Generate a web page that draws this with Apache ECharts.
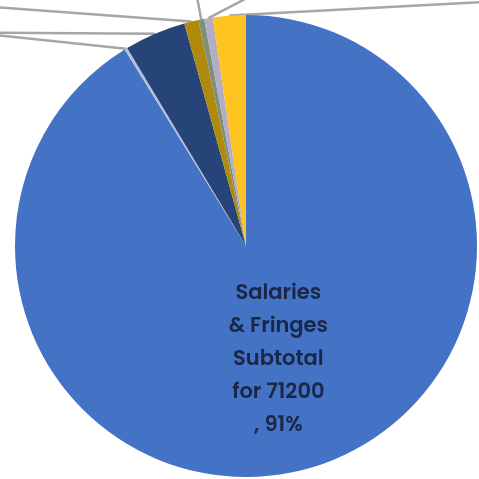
<!DOCTYPE html>
<html>
<head>
<meta charset="utf-8">
<script src="https://cdn.jsdelivr.net/npm/echarts@6/dist/echarts.min.js"></script>
<style>
  html, body { margin: 0; padding: 0; background: #fff; }
  #chart { width: 479px; height: 479px; }
</style>
</head>
<body>
<div id="chart"></div>
<script>
// slice names and shares (percent), clockwise from 12 o'clock
var names = ['Salaries & Fringes Subtotal for 71200', 'Other Personnel', 'Contractual', 'Equipment', 'Supplies', 'Communications', 'Travel'];
var values = [91.2, 0.2, 4.3, 1.0, 0.4, 0.6, 2.3];
var colors = ['#4472C4', '#B4C0D6', '#264478', '#B08A0C', '#7E8F7A', '#B2ACC4', '#FFC31F'];
// where the off-picture labels sit (their leader lines run out of frame)
var labelSpots = [null, [-160, 20], [-160, 32], [-140, -2], [176, -60], [330, -40], [720, -10]];

var chart = echarts.init(document.getElementById('chart'));

var data = names.map(function (n, i) {
  return { name: n, value: values[i], itemStyle: { color: colors[i] } };
});

var option = {
  animation: false,
  series: [{
    type: 'pie',
    center: [246, 246],
    radius: [0, 231],
    startAngle: 90,
    clockwise: true,
    avoidLabelOverlap: false,
    percentPrecision: 0,
    data: data,
    label: {
      show: true,
      position: 'outside',
      color: '#333',
      fontSize: 12,
      formatter: '{b}, {d}%'
    },
    labelLine: {
      show: true,
      length: 10,
      length2: 10,
      lineStyle: { color: '#A6A6A6', width: 2.5 }
    },
    labelLayout: function (p) {
      var s = labelSpots[p.dataIndex];
      if (!s) return {};
      return { x: s[0], y: s[1], align: s[0] > 246 ? 'left' : 'right' };
    },
    emphasis: { disabled: true }
  }]
};

option.series[0].data[0].label = {
  position: 'inside',
  fontFamily: 'Poppins, "Noto Sans", sans-serif',
  fontWeight: 600,
  fontSize: 21,
  lineHeight: 33,
  color: '#1A2746',
  formatter: function (p) {
    return 'Salaries\n& Fringes\nSubtotal\nfor 71200\n, ' + p.percent + '%';
  }
};
option.series[0].data[0].labelLine = { show: false };

chart.setOption(option);
</script>
</body>
</html>
